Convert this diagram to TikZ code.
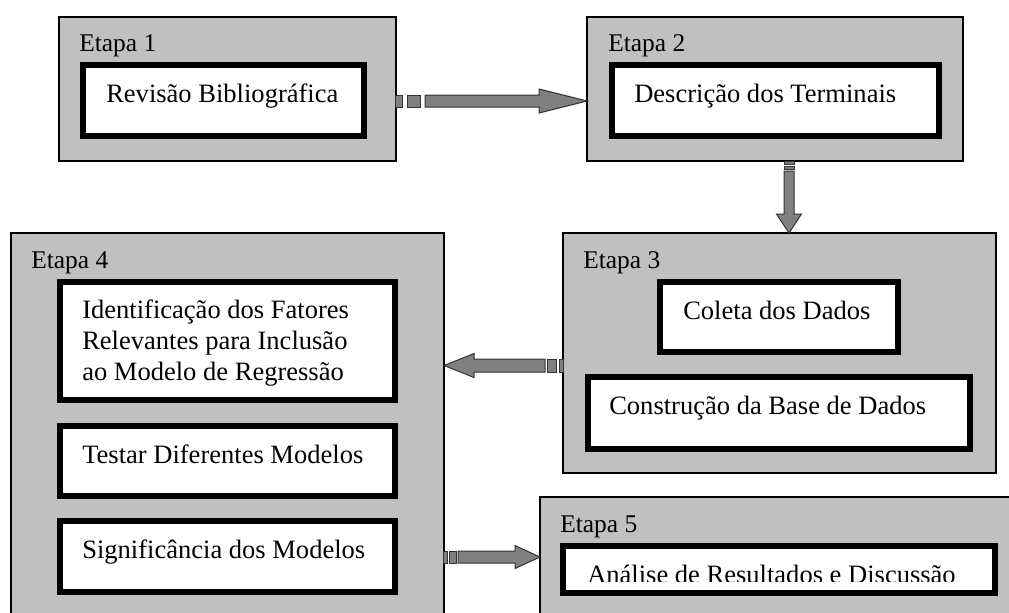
\documentclass[tikz,border=0pt]{standalone}
\usepackage{fontspec}
\setmainfont{Liberation Serif}
\usetikzlibrary{fit,calc}
\definecolor{stagegray}{HTML}{C0C0C0}
\definecolor{arrowgray}{HTML}{808080}
\definecolor{arrowline}{HTML}{333333}
\tikzset{
  stage/.style={rectangle, draw=black, fill=stagegray, line width=1pt, inner sep=0pt, outer sep=0pt},
  taskbox/.style={rectangle, draw=black, fill=white, line width=4.5pt, inner sep=0pt, outer sep=0pt},
  stagelabel/.style={anchor=base west, inner sep=0pt, font=\fontsize{19.1pt}{23pt}\selectfont},
  tasktext/.style={anchor=base west, inner sep=0pt, font=\fontsize{19.9pt}{23.25pt}\selectfont},
  blockarrow/.style={fill=arrowgray, draw=arrowline, line width=0.75pt, line join=miter}
}
\begin{document}
\begin{tikzpicture}[x=0.75pt,y=-0.75pt]
\useasboundingbox (0,0) rectangle (1009,612);
\fill[white] (0,0) rectangle (1009,612);
\clip (0,0) rectangle (1009,612);

% stages
\node[stage, fit={(59,17) (396,161)}] (e1) {};
\node[stage, fit={(587,17) (963,161)}] (e2) {};
\node[stage, fit={(563,233) (996,473)}] (e3) {};
\node[stage, fit={(11,233) (444,640)}] (e4) {};
\node[stage, fit={(540,497) (1030,640)}] (e5) {};

\node[stagelabel] (l1) at (79,51) {Etapa 1};
\node[stagelabel] (l2) at (608,51) {Etapa 2};
\node[stagelabel] (l3) at (583,268) {Etapa 3};
\node[stagelabel] (l4) at (31,268) {Etapa 4};
\node[stagelabel] (l5) at (560,532) {Etapa 5};

% task boxes
\node[taskbox, fit={(83,65) (364,136)}] (b1) {};
\node[taskbox, fit={(612,65) (939,136)}] (b2) {};
\node[taskbox, fit={(660,282) (898,352)}] (b3a) {};
\node[taskbox, fit={(588,377) (970,449)}] (b3b) {};
\node[taskbox, fit={(60,282) (395,400)}] (b4a) {};
\node[taskbox, fit={(60,426) (395,496)}] (b4b) {};
\node[taskbox, fit={(60,521) (395,592)}] (b4c) {};
\node[taskbox, fit={(563,546) (995,593)}] (b5) {};

\node[tasktext] (t1) at (106,102) {Revisão Bibliográfica};
\node[tasktext] (t2) at (634,102) {Descrição dos Terminais};
\node[tasktext] (t3a) at (683,319) {Coleta dos Dados};
\node[tasktext] (t3b) at (609,414) {Construção da Base de Dados};
\node[tasktext] (t4a) at (82,318) {\begin{tabular}[t]{@{}l@{}}Identificação dos Fatores\\Relevantes para Inclusão\\ao Modelo de Regressão\end{tabular}};
\node[tasktext] (t4b) at (82,463) {Testar Diferentes Modelos};
\node[tasktext] (t4c) at (82,558) {Significância dos Modelos};
\begin{scope}
  \clip (566,549) rectangle (992,581);
  \node[tasktext] (t5) at (587,583) {Análise de Resultados e Discussão};
\end{scope}

% arrow endpoints
\coordinate (a1s) at (425,101);
\coordinate (a1t) at (e2.west |- 0,101);
\coordinate (a2s) at (789,171);
\coordinate (a2t) at (e3.north -| 789,0);
\coordinate (a3s) at (545,365.5);
\coordinate (a3t) at (e4.east |- 0,365.5);
\coordinate (a4s) at (458,557);
\coordinate (a4t) at (e5.west |- 0,557);

% arrow 1: Etapa 1 -> Etapa 2
\filldraw[blockarrow] ($(a1s)+(-30,-6)$) rectangle ($(a1s)+(-23,6)$);
\filldraw[blockarrow] ($(a1s)+(-18,-6)$) rectangle ($(a1s)+(-5,6)$);
\filldraw[blockarrow] (a1t) -- ++(-48,-12) -- ++(0,6) -- ($(a1s)+(0,-6)$) -- ++(0,12)
  -- ($(a1t)+(-48,6)$) -- ++(0,6) -- cycle;

% arrow 2: Etapa 2 -> Etapa 3
\filldraw[blockarrow] ($(a2s)+(-5,-10)$) rectangle ($(a2s)+(5,-7)$);
\filldraw[blockarrow] ($(a2s)+(-5,-5)$) rectangle ($(a2s)+(5,-2)$);
\filldraw[blockarrow] (a2t) -- ++(-12.5,-19) -- ++(7.5,0) -- ($(a2s)+(-5,0)$) -- ++(10,0)
  -- ($(a2t)+(5,-19)$) -- ++(7.5,0) -- cycle;

% arrow 3: Etapa 3 -> Etapa 4
\filldraw[blockarrow] ($(a3s)+(14,-6.5)$) rectangle ($(a3s)+(18,6.5)$);
\filldraw[blockarrow] ($(a3s)+(2,-6.5)$) rectangle ($(a3s)+(11,6.5)$);
\filldraw[blockarrow] (a3t) -- ++(30,-12) -- ++(0,5.5) -- ($(a3s)+(0,-6.5)$) -- ++(0,13)
  -- ($(a3t)+(30,6.5)$) -- ++(0,5.5) -- cycle;

% arrow 4: Etapa 4 -> Etapa 5
\filldraw[blockarrow] ($(a4s)+(-15,-6)$) rectangle ($(a4s)+(-11,6)$);
\filldraw[blockarrow] ($(a4s)+(-9,-6)$) rectangle ($(a4s)+(-2,6)$);
\filldraw[blockarrow] (a4t) -- ++(-25,-11.5) -- ++(0,5.5) -- ($(a4s)+(0,-6)$) -- ++(0,12)
  -- ($(a4t)+(-25,6)$) -- ++(0,5.5) -- cycle;
\end{tikzpicture}
\end{document}
